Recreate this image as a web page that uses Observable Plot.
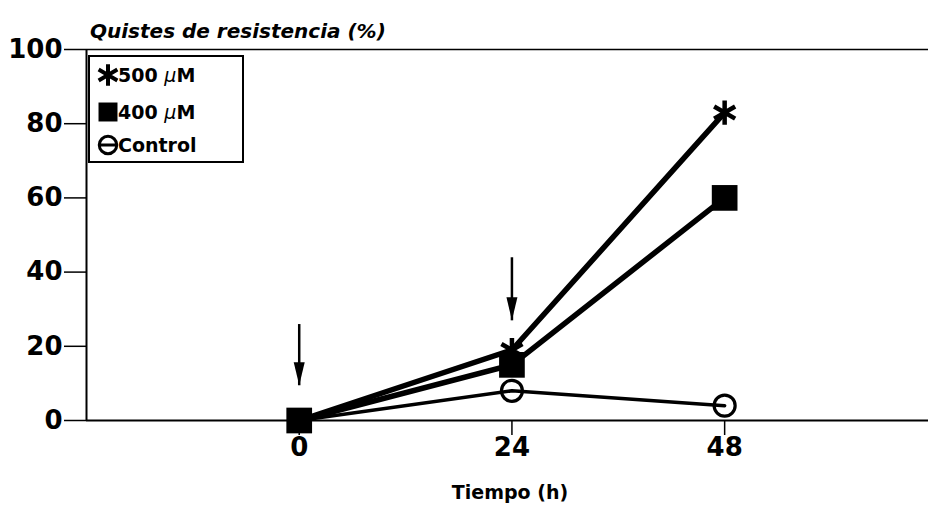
<!DOCTYPE html>
<html><head><meta charset="utf-8">
<script src="https://cdn.jsdelivr.net/npm/d3@7"></script>
<script src="https://cdn.jsdelivr.net/npm/@observablehq/plot@0.6"></script>
<style>body{margin:0;background:#fff}</style>
</head><body><div id="chart"></div>
<script>
// ---- data ----
const hours = [0, 24, 48];
const seriesNames = ["500 µM", "400 µM", "Control"];
const v500 = [0, 19, 83];
const v400 = [0, 15, 60];
const vControl = [0, 8, 4];
const yTicks = [0, 20, 40, 60, 80, 100];
const xTicks = [0, 24, 48];
const xDomain = [-24, 71];
const yDomain = [0, 100];
const arrowX = [0, 24];
const arrowTop = [26, 44];
const arrowTip = [9.5, 27];
const titleText = "Quistes de resistencia (%)";
const xLabelText = "Tiempo (h)";

// ---- build table ----
const valuesBySeries = [v500, v400, vControl];
const rows = [];
seriesNames.forEach((s, i) => hours.forEach((h, j) => rows.push({series: s, hour: h, value: valuesBySeries[i][j]})));
const arrows = arrowX.map((x, i) => ({x, top: arrowTop[i], tip: arrowTip[i]}));

const FONT = "DejaVu Sans";
const W = 928, H = 507;
const M = {top: 49, right: 0, bottom: 87, left: 86};

const arrowHead = {
  draw(ctx) {
    ctx.moveTo(0, 0);
    ctx.lineTo(-5.5, -23);
    ctx.lineTo(5.5, -23);
    ctx.closePath();
  }
};

const lineW = {"500 µM": 5.5, "400 µM": 5.5, "Control": 3.5};

const plot = Plot.plot({
  width: W, height: H,
  marginTop: M.top, marginRight: M.right, marginBottom: M.bottom, marginLeft: M.left,
  style: {fontFamily: FONT, fontWeight: "bold", color: "#000", background: "#fff"},
  x: {domain: xDomain},
  y: {domain: yDomain},
  marks: [
    Plot.ruleY([yDomain[1]], {stroke: "#000", strokeWidth: 1.5}),
    Plot.ruleY([yDomain[0]], {stroke: "#000", strokeWidth: 2}),
    Plot.ruleX([xDomain[0]], {stroke: "#000", strokeWidth: 2}),
    Plot.axisY({ticks: yTicks, tickSize: 22, tickPadding: 2, fontSize: 26, label: null, strokeWidth: 1.5, tickFormat: d3.format("d")}),
    Plot.axisX({ticks: xTicks, tickSize: 15, tickPadding: 2, fontSize: 26, label: null, strokeWidth: 1.5, tickFormat: d3.format("d")}),
    // arrows
    Plot.link(arrows, {x1: "x", y1: "top", x2: "x", y2: "tip", stroke: "#000", strokeWidth: 2.5}),
    Plot.dot(arrows, {x: "x", y: "tip", symbol: arrowHead, fill: "#000", stroke: "none", r: 5}),
    // lines
    ...seriesNames.map(s => Plot.line(rows.filter(d => d.series === s), {x: "hour", y: "value", stroke: "#000", strokeWidth: lineW[s], strokeLinejoin: "round"})),
    // markers
    Plot.dot(rows.filter(d => d.series === "Control"), {x: "hour", y: "value", symbol: "circle", r: 10.5, fill: "none", stroke: "#000", strokeWidth: 3.2}),
    Plot.dot(rows.filter(d => d.series === "500 µM"), {x: "hour", y: "value", symbol: "asterisk", r: 11.5, stroke: "#000", strokeWidth: 4.5}),
    Plot.dot(rows.filter(d => d.series === "400 µM"), {x: "hour", y: "value", symbol: "square", r: 14.5, fill: "#000", stroke: "none"})
  ]
});

const svg = d3.select(plot);
// title
svg.append("text").attr("x", 90).attr("y", 38).attr("text-anchor", "start")
  .attr("font-family", FONT).attr("font-weight", "bold").attr("font-style", "italic")
  .attr("font-size", 20).attr("fill", "#000").text(titleText);
// x label
svg.append("text").attr("x", M.left + (W - M.left - M.right) / 2 + 3).attr("y", 499)
  .attr("text-anchor", "middle")
  .attr("font-family", FONT).attr("font-weight", "bold")
  .attr("font-size", 19).attr("fill", "#000").text(xLabelText);

// legend
const lg = svg.append("g");
lg.append("rect").attr("x", 89).attr("y", 56).attr("width", 154).attr("height", 106)
  .attr("fill", "#fff").attr("stroke", "#000").attr("stroke-width", 2);
const legendSymbols = [
  {type: d3.symbolAsterisk, size: 330, fill: "none", stroke: "#000", sw: 4},
  {type: d3.symbolSquare, size: 360, fill: "#000", stroke: "none", sw: 0},
  {type: d3.symbolCircle, size: 240, fill: "none", stroke: "#000", sw: 3}
];
const rowY = [75, 112, 145];
seriesNames.forEach((s, i) => {
  const sym = legendSymbols[i];
  lg.append("path").attr("transform", `translate(108,${rowY[i]})`)
    .attr("d", d3.symbol(sym.type, sym.size)())
    .attr("fill", sym.fill).attr("stroke", sym.stroke).attr("stroke-width", sym.sw);
  if (s === "Control") {
    lg.append("line").attr("x1", 100).attr("x2", 116).attr("y1", rowY[i]).attr("y2", rowY[i])
      .attr("stroke", "#000").attr("stroke-width", 3);
  }
  const t = lg.append("text").attr("x", 118).attr("y", rowY[i]).attr("dy", "0.36em")
    .attr("text-anchor", "start")
    .attr("font-family", FONT).attr("font-weight", "bold").attr("font-size", 19).attr("fill", "#000");
  const parts = s.split("µ");
  t.append("tspan").text(parts[0]);
  if (parts.length > 1) {
    t.append("tspan").attr("font-style", "italic").attr("font-weight", "normal").text("µ");
    t.append("tspan").text(parts[1]);
  }
});

document.getElementById("chart").appendChild(plot);
</script>
</body></html>
